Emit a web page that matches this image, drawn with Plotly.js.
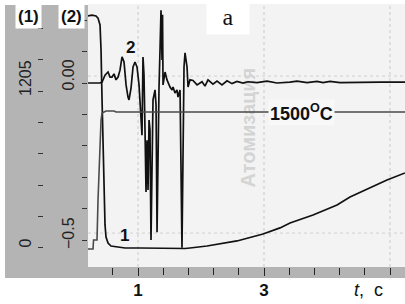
<!DOCTYPE html>
<html>
<head>
<meta charset="utf-8">
<script src="https://cdn.plot.ly/plotly-3.0.1.min.js"></script>
<style>html,body{margin:0;padding:0;background:#fff;}#chart{width:405px;height:304px;}</style>
</head>
<body>
<div id="chart"></div>
<script>
// Curve 1 (left scale (1))
const time1 = [0.206, 0.270, 0.333, 0.365, 0.397, 0.413, 0.429, 0.444, 0.460, 0.476, 0.492, 0.524, 0.571, 0.651, 0.794, 1.032, 1.349, 1.746, 1.825, 2.095, 2.571, 2.984, 3.254, 3.413, 3.778, 4.159, 4.365, 4.635, 4.952, 5.238];
const curve1 = [1781, 1788, 1781, 1765, 1712, 1520, 1136, 752, 368, 177, 84, 38, 15, 8, 0, 0, -4, -4, 0, 15, 54, 107, 154, 192, 253, 330, 391, 453, 522, 576];

// Curve 2 (scale (2))
const time2 = [0.206, 0.397, 0.429, 0.476, 0.524, 0.556, 0.587, 0.619, 0.651, 0.683, 0.714, 0.746, 0.778, 0.810, 0.841, 0.857, 0.889, 0.921, 0.952, 0.984, 1.016, 1.032, 1.048, 1.063, 1.079, 1.095, 1.111, 1.127, 1.143, 1.159, 1.175, 1.190, 1.206, 1.222, 1.238, 1.270, 1.286, 1.302, 1.317, 1.333, 1.349, 1.365, 1.381, 1.389, 1.397, 1.429, 1.460, 1.476, 1.508, 1.540, 1.556, 1.587, 1.619, 1.635, 1.667, 1.698, 1.714, 1.730, 1.746, 1.778, 1.794, 1.825, 1.873, 1.937, 2.016, 2.063, 2.111, 2.190, 2.254, 2.333, 2.413, 2.492, 2.571, 2.667, 2.746, 2.889, 3.048, 3.206, 3.413, 3.524, 3.683, 3.841, 3.937, 4.048, 4.206, 4.524, 4.841, 5.238];
const curve2 = [0, 0, 0.003, 0.025, 0.035, 0.019, 0.019, 0.029, 0.010, 0.019, 0.041, 0.083, 0.067, -0.006, -0.045, -0.054, -0.016, 0.051, 0.067, 0.051, -0.006, -0.070, -0.140, -0.166, 0.083, 0.025, -0.150, -0.347, -0.182, -0.341, -0.118, -0.150, -0.500, -0.277, -0.054, -0.022, -0.070, -0.475, -0.118, -0.016, 0.105, 0.232, 0.073, 0.217, -0.006, 0.035, 0.010, 0, -0.013, -0.022, -0.013, -0.032, -0.022, -0.045, -0.022, -0.525, -0.118, 0.051, 0.096, 0.051, -0.013, 0.010, 0.008, -0.006, 0.004, -0.010, 0.010, -0.004, 0.006, -0.006, 0.007, -0.002, 0.005, 0, 0.004, 0.001, 0.006, 0, 0.003, 0.006, 0.001, 0.005, 0.001, 0.005, 0.001, 0.003, 0.003, 0.003];

// Temperature trace
const timeT = [0.206, 0.286, 0.294, 0.349, 0.365, 0.381, 0.397, 0.413, 0.429, 0.460, 0.492, 0.619, 0.651, 5.238];
const temperature = [100, 100, 192, 192, 601, 907, 1112, 1418, 1490, 1500, 1510, 1510, 1500, 1500];

// Axis ticks
const xTickVals = [1, 3];
const xTickText = ['1', '3'];
const xMinorStart = 0.2, xMinorStep = 0.4;
const y2TickVals = [0.2, 0.1, 0, -0.1, -0.2, -0.3, -0.4, -0.5];
const y2LabelVals = [0, -0.5];
const y2LabelText = ['0.00', '\u22120.5'];
const y1TickVals = [0, 241, 482, 723, 964, 1205, 1446, 1687];
const y1LabelVals = [0, 1205];
const y1LabelText = ['0', '1205'];
const gridTimes = [1, 3, 5];
const gridLevels2 = [0.022, -0.478];

const traces = [
  {x: timeT, y: temperature, yaxis: 'y3', mode: 'lines', line: {color: '#4a4a4a', width: 1.6}, hoverinfo: 'skip'},
  {x: time1, y: curve1, yaxis: 'y2', mode: 'lines', line: {color: '#111', width: 1.7}, hoverinfo: 'skip'},
  {x: time2, y: curve2, yaxis: 'y', mode: 'lines', line: {color: '#111', width: 1.7}, hoverinfo: 'skip'}
];

const X0 = 0.2075; // left edge of plot area in paper units
const shapes = [
  {type: 'rect', xref: 'paper', yref: 'paper', x0: 0, x1: X0, y0: -0.0418, y1: 0.996, fillcolor: '#b4b4b4', line: {width: 0}, layer: 'below'},
  {type: 'rect', xref: 'paper', yref: 'paper', x0: X0, x1: 1, y0: -0.0418, y1: 0, fillcolor: '#b4b4b4', line: {width: 0}, layer: 'below'}
];
gridTimes.forEach(t => shapes.push({type: 'line', xref: 'x', yref: 'paper', x0: t, x1: t, y0: 0, y1: 1, line: {color: '#c9c9c9', width: 1, dash: 'dot'}, layer: 'below'}));
gridLevels2.forEach(v => shapes.push({type: 'line', xref: 'paper', yref: 'y', x0: X0, x1: 1, y0: v, y1: v, line: {color: '#d0d0d0', width: 1, dash: 'dot'}, layer: 'below'}));
shapes.push({type: 'rect', xref: 'paper', yref: 'paper', x0: 0.57, x1: 0.635, y0: 0.25, y1: 0.81, line: {width: 0}, fillcolor: 'rgba(0,0,0,0)', layer: 'below',
  label: {text: '<b>Атомизация</b>', textangle: -90, textposition: 'middle center', font: {family: 'Arial, Liberation Sans', size: 20, color: '#d4d4d4'}}});

const f = 'Arial, Liberation Sans, sans-serif';
const ann = (o) => Object.assign({showarrow: false, xanchor: 'center', yanchor: 'middle'}, o);
const annotations = [
  ann({xref: 'paper', yref: 'paper', x: 0.059, y: 0.954, text: '<b>(1)</b>', bgcolor: '#fff', borderpad: 2, font: {family: f, size: 17, color: '#111'}}),
  ann({xref: 'paper', yref: 'paper', x: 0.1655, y: 0.954, text: '<b>(2)</b>', bgcolor: '#fff', borderpad: 2, font: {family: f, size: 17, color: '#111'}}),
  ann({xref: 'paper', yref: 'paper', x: 0.5575, y: 0.9506, text: 'a', bgcolor: '#fff', width: 40, height: 33, font: {family: 'Liberation Serif, serif', size: 24, color: '#111'}}),
  ann({xref: 'paper', yref: 'paper', x: 0.3125, y: 0.8365, text: '<b>2</b>', font: {family: f, size: 17, color: '#111'}}),
  ann({xref: 'paper', yref: 'paper', x: 0.2975, y: 0.118, text: '<b>1</b>', font: {family: f, size: 17, color: '#111'}}),
  ann({xref: 'paper', yref: 'paper', x: 0.74, y: 0.589, text: '<b>1500<sup>O</sup>C</b>', bgcolor: '#f8f8f8', borderpad: 1, font: {family: f, size: 18, color: '#111'}}),
  ann({xref: 'paper', yref: 'paper', x: 0.9075, y: -0.0875, text: '<i>t</i>,  с', font: {family: f, size: 18, color: '#111'}})
];
// rotated tick labels of the two left scales
const shift1 = [-1, -6];
const shift2 = [-9, -10];
y1LabelVals.forEach((v, i) => annotations.push(ann({xref: 'paper', yref: 'y2', x: 0.05, y: v, yanchor: 'bottom', yshift: shift1[i], textangle: -90, text: y1LabelText[i], borderpad: 0, font: {family: f, size: 16, color: '#222'}})));
y2LabelVals.forEach((v, i) => annotations.push(ann({xref: 'paper', yref: 'y', x: 0.1575, y: v, yanchor: 'bottom', yshift: shift2[i], textangle: -90, text: y2LabelText[i], borderpad: 0, font: {family: f, size: 16, color: '#222'}})));

const layout = {
  width: 405, height: 304,
  margin: {l: 5, r: 0, t: 4, b: 37, pad: 0},
  paper_bgcolor: '#ffffff',
  plot_bgcolor: '#f3f3f3',
  showlegend: false,
  xaxis: {domain: [X0, 1], range: [0.206, 5.238], tickmode: 'array', tickvals: xTickVals, ticktext: xTickText,
    ticks: 'outside', ticklen: 8, tickwidth: 1, tickcolor: '#222',
    minor: {tick0: xMinorStart, dtick: xMinorStep, ticks: 'outside', ticklen: 7, tickwidth: 1, tickcolor: '#222', showgrid: false},
    showgrid: false, zeroline: false, showline: false,
    tickfont: {family: f, size: 17, color: '#111', weight: 'bold'}, automargin: false},
  yaxis: {range: [-0.586, 0.2516], anchor: 'x', side: 'left', tickmode: 'array', tickvals: y2TickVals, showticklabels: false,
    ticks: 'outside', ticklen: 5, tickwidth: 1, tickcolor: '#333',
    showgrid: false, zeroline: false, showline: false, automargin: false},
  yaxis2: {range: [-146, 1873], overlaying: 'y', anchor: 'free', position: 0.095, side: 'left', tickmode: 'array', tickvals: y1TickVals, showticklabels: false,
    ticks: 'outside', ticklen: 5, tickwidth: 1, tickcolor: '#333',
    showgrid: false, zeroline: false, showline: false, automargin: false},
  yaxis3: {range: [-84, 2604], overlaying: 'y', visible: false},
  shapes: shapes,
  annotations: annotations
};

Plotly.newPlot('chart', traces, layout, {staticPlot: true, displayModeBar: false});
</script>
</body>
</html>
